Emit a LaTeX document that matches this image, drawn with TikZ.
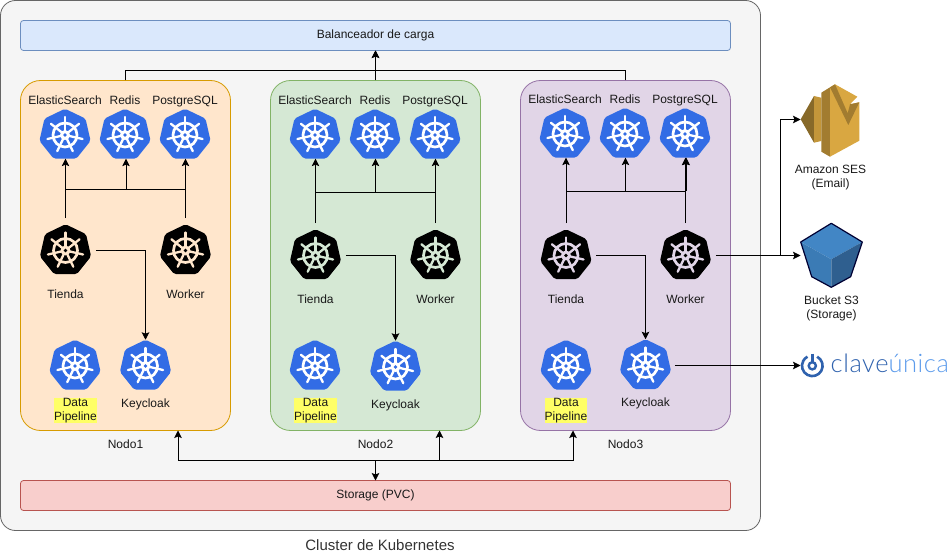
\documentclass[tikz,border=0pt]{standalone}
\usepackage{fontspec}
\setmainfont{Liberation Sans}
\newfontfamily\clavefont[LetterSpace=2.2]{Lato Light}
\usetikzlibrary{positioning, shapes.geometric, arrows.meta}
\definecolor{kubeblue}{HTML}{326CE5}
\definecolor{cajagris}{HTML}{F5F5F5}
\definecolor{nodoA}{HTML}{FFE6CC}
\definecolor{nodoB}{HTML}{D5E8D4}
\definecolor{nodoC}{HTML}{E1D5E7}
\definecolor{bordeA}{HTML}{D79B00}
\definecolor{bordeB}{HTML}{82B366}
\definecolor{bordeC}{HTML}{9673A6}
\definecolor{barraazul}{HTML}{DAE8FC}
\definecolor{bordeazul}{HTML}{6C8EBF}
\definecolor{barraroja}{HTML}{F8CECC}
\definecolor{borderojo}{HTML}{B85450}
\definecolor{resalte}{HTML}{FFFF66}
\definecolor{sesclaro}{HTML}{D9A741}
\definecolor{sesmedio}{HTML}{A27C30}
\definecolor{sesoscuro}{HTML}{876929}
\definecolor{cubotapa}{HTML}{4286C5}
\definecolor{cubolado}{HTML}{3B7BB5}
\definecolor{cubosombra}{HTML}{2F5F8F}
\definecolor{clavedark}{HTML}{2F62AE}
\definecolor{clavelight}{HTML}{5C9BEB}

\begin{document}
\begin{tikzpicture}[x=1pt, y=-1pt,
                    every node/.style={font=\fontsize{12}{14}\selectfont, text=black!90},
                    caja/.style={rectangle, inner sep=0pt, outer sep=0pt, line width=0.8pt},
                    barra/.style={caja, rounded corners=3pt, minimum width=710pt, minimum height=30pt},
                    nodok/.style={caja, rounded corners=20pt, minimum width=210pt, minimum height=350pt},
                    etiqueta/.style={inner sep=0pt, text height=9pt, text depth=3pt},
                    doble/.style={inner sep=0pt, align=center},
                    resaltado/.style={doble, fill=resalte, inner ysep=0.5pt},
                    kube/.style 2 args={regular polygon, regular polygon sides=7, minimum size=52.5pt,
                                        inner sep=0pt, outer sep=0pt, fill=#1, rounded corners=2pt,
                                        path picture={
                                          \begin{scope}[shift={(path picture bounding box.center)}, yshift=-1.2pt]
                                            \draw[#2, line width=2.7pt] (0,0) circle[radius=12pt];
                                            \foreach \a in {90,141.43,192.86,244.29,295.71,347.14,38.57} {
                                              \draw[#2, line width=2.3pt, line cap=round] (0,0) -- (\a:18pt);
                                            }
                                            \fill[#2] (0,0) circle[radius=5pt];
                                            \fill[#1] (0,0) circle[radius=1.8pt];
                                          \end{scope}}},
                    link/.style={->, >={Stealth[length=7.5pt, width=7.5pt, inset=1.5pt]}, line width=0.8pt},
                    linea/.style={line width=0.8pt}]
            \useasboundingbox (0,0) rectangle (951,556);

            % Cluster
            \node[caja, rounded corners=15pt, draw=black!60, fill=cajagris, minimum width=760pt, minimum height=530pt] (cluster) at (380.5,265.5) {};
            \node[font=\fontsize{15}{18}\selectfont, text=black!80] (clustername) at (380,545.5) {Cluster de Kubernetes};
            \node[barra, draw=bordeazul, fill=barraazul] (balanceador) at (375.5,35.5) {Balanceador de carga};
            \node[barra, draw=borderojo, fill=barraroja] (storage) at (375.5,495.5) {Storage (PVC)};

            % Nodo1
            \node[nodok, draw=bordeA, fill=nodoA] (nodo1) at (125.5,255.5) {};
            \node[etiqueta] (nodoname1) [below=8.5pt of nodo1] {Nodo1};
            \node[kube={kubeblue}{white}] (es1) at (65,135) {};
            \node[etiqueta] (esname1) [above=1.5pt of es1] {ElasticSearch};
            \node[kube={kubeblue}{white}] (redis1) at (125,135) {};
            \node[etiqueta] (redisname1) [above=1.5pt of redis1] {Redis};
            \node[kube={kubeblue}{white}] (pg1) at (185,135) {};
            \node[etiqueta] (pgname1) [above=1.5pt of pg1] {PostgreSQL};
            \node[kube={black}{nodoA}] (tienda1) at (65.5,250.5) {};
            \node[etiqueta] (tiendaname1) [below=15pt of tienda1] {Tienda};
            \node[kube={black}{nodoA}] (worker1) at (185.5,250.5) {};
            \node[etiqueta] (workername1) [below=15pt of worker1] {Worker};
            \node[kube={kubeblue}{white}] (data1) at (75,366) {};
            \node[resaltado] (dataname1) at (75.5,410.5) {Data\\Pipeline};
            \node[kube={kubeblue}{white}] (keycloak1) at (145.5,366) {};
            \node[etiqueta] (keycloakname1) [below=8.5pt of keycloak1] {Keycloak};

            % Nodo2
            \node[nodok, draw=bordeB, fill=nodoB] (nodo2) at (375.5,255.5) {};
            \node[etiqueta] (nodoname2) [below=8.5pt of nodo2] {Nodo2};
            \node[kube={kubeblue}{white}] (es2) at (315,135) {};
            \node[etiqueta] (esname2) [above=1.5pt of es2] {ElasticSearch};
            \node[kube={kubeblue}{white}] (redis2) at (375,135) {};
            \node[etiqueta] (redisname2) [above=1.5pt of redis2] {Redis};
            \node[kube={kubeblue}{white}] (pg2) at (435,135) {};
            \node[etiqueta] (pgname2) [above=1.5pt of pg2] {PostgreSQL};
            \node[kube={black}{nodoB}] (tienda2) at (315.5,255.5) {};
            \node[etiqueta] (tiendaname2) [below=15pt of tienda2] {Tienda};
            \node[kube={black}{nodoB}] (worker2) at (435.5,255.5) {};
            \node[etiqueta] (workername2) [below=15pt of worker2] {Worker};
            \node[kube={kubeblue}{white}] (data2) at (315,366) {};
            \node[resaltado] (dataname2) at (315.5,410.5) {Data\\Pipeline};
            \node[kube={kubeblue}{white}] (keycloak2) at (395.5,367) {};
            \node[etiqueta] (keycloakname2) [below=8.5pt of keycloak2] {Keycloak};

            % Nodo3
            \node[nodok, draw=bordeC, fill=nodoC] (nodo3) at (625.5,255.5) {};
            \node[etiqueta] (nodoname3) [below=8.5pt of nodo3] {Nodo3};
            \node[kube={kubeblue}{white}] (es3) at (565,134) {};
            \node[etiqueta] (esname3) [above=1.5pt of es3] {ElasticSearch};
            \node[kube={kubeblue}{white}] (redis3) at (625,134) {};
            \node[etiqueta] (redisname3) [above=1.5pt of redis3] {Redis};
            \node[kube={kubeblue}{white}] (pg3) at (685,134) {};
            \node[etiqueta] (pgname3) [above=1.5pt of pg3] {PostgreSQL};
            \node[kube={black}{nodoC}] (tienda3) at (566,255.5) {};
            \node[etiqueta] (tiendaname3) [below=15pt of tienda3] {Tienda};
            \node[kube={black}{nodoC}] (worker3) at (685.5,255.5) {};
            \node[etiqueta] (workername3) [below=15pt of worker3] {Worker};
            \node[kube={kubeblue}{white}] (data3) at (566,366) {};
            \node[resaltado] (dataname3) at (566,410.5) {Data\\Pipeline};
            \node[kube={kubeblue}{white}] (keycloak3) at (645.5,365.5) {};
            \node[etiqueta] (keycloakname3) [below=8pt of keycloak3] {Keycloak};

            % Amazon SES
            \fill[sesoscuro] (800.7,119.3) -- (814,96) -- (814,142.7) -- cycle;
            \fill[sesmedio!40!sesclaro] (814,96) -- (821.3,97.7) -- (821.3,141) -- (814,142.7) -- cycle;
            \fill[sesmedio] (821.3,92.7) -- (830,87.3) -- (830,156.7) -- (821.3,151.7) -- cycle;
            \fill[sesclaro] (830,87.3) -- (835,84.3) -- (857.3,96.7) -- (850,104.3) -- (859.3,102.3) -- (859.3,140.7) -- (830,156.7) -- cycle;
            \fill[sesmedio] (830,87.3) -- (835,84.3) -- (847.7,113.3) -- (850,104.3) -- (859.3,102.3) -- (848.3,125) -- cycle;
            \coordinate (sesicon) at (800.5,119.5);
            \node[doble] (sesname) at (830.5,178) {Amazon SES\\(Email)};

            % Bucket S3
            \fill[cubotapa] (831.3,223.3) -- (862.3,242) -- (831.3,259.3) -- (800.7,242) -- cycle;
            \fill[cubolado] (800.7,242) -- (831.3,259.3) -- (831.3,287.3) -- (811.7,276.7) -- cycle;
            \fill[cubosombra] (862.3,242) -- (831.3,259.3) -- (831.3,287.3) -- (850.7,276.7) -- cycle;
            \draw[black!80!blue, line width=1.2pt, line join=round] (831.3,223.3) -- (862.3,242) -- (850.7,276.7) -- (831.3,287.3) -- (811.7,276.7) -- (800.7,242) -- cycle;
            \coordinate (s3icon) at (800.5,255.5);
            \node[doble] (s3name) at (831.5,308) {Bucket S3\\(Storage)};

            % Clave Unica
            \draw[clavedark, line width=2.6pt] (812.3,365.8) ++(62:10.3pt) arc[start angle=62, end angle=-242, radius=10.3pt];
            \draw[clavedark, line width=2.4pt] (812.3,365.8) circle[radius=3.6pt];
            \draw[clavedark, line width=2.4pt] (812.3,353.5) -- (812.3,362);
            \coordinate (claveicon) at (800.5,366.5);
            \node[anchor=base west, inner sep=0pt, font=\clavefont\fontsize{25.5}{28}\selectfont] (clavename) at (830.5,372.5) {\textcolor{clavedark}{clave}\textcolor{clavelight}{única}};

            % Conexiones
            \coordinate (lbbus) at (375.5,70.5);
            \draw[link] (nodo1.north) |- (lbbus) -- (balanceador.south);
            \draw[linea] (nodo3.north) |- (lbbus);
            \draw[link] (nodo2.north) -- (balanceador.south);

            \coordinate (bus1) at (126,189.5);
            \draw[link, shorten <=6pt] (tienda1.north) -- (tienda1.north |- es1.south);
            \draw[link, shorten <=6pt] (worker1.north) -- (worker1.north |- pg1.south);
            \draw[linea] (tienda1.north |- bus1) -- (worker1.north |- bus1);
            \draw[link] (bus1) -- (bus1 |- redis1.south);
            \draw[link, shorten <=6pt] (tienda1.east) -| (keycloak1.north);

            \coordinate (bus2) at (375.5,192);
            \draw[link, shorten <=6pt] (tienda2.north) -- (tienda2.north |- es2.south);
            \draw[link, shorten <=6pt] (worker2.north) -- (worker2.north |- pg2.south);
            \draw[linea] (tienda2.north |- bus2) -- (worker2.north |- bus2);
            \draw[link] (bus2) -- (bus2 |- redis2.south);
            \draw[link, shorten <=6pt] (tienda2.east) -| (keycloak2.north);

            \coordinate (bus3) at (625.5,191);
            \coordinate (bus3r) at (686.2,191);
            \draw[link, shorten <=6pt] (tienda3.north) -- (tienda3.north |- es3.south);
            \draw[link, shorten <=6pt] (worker3.north) -- (worker3.north |- pg3.south);
            \draw[linea] (tienda3.north |- bus3) -- (bus3r);
            \draw[link] (bus3) -- (bus3 |- redis3.south);
            \draw[link] (bus3r) -- (bus3r |- pg3.south);
            \draw[link, shorten <=6pt] (tienda3.east) -| (keycloak3.north);

            \coordinate (sesbranch) at (780.5,255.5);
            \draw[link, shorten <=6pt] (worker3.east) -- (worker3.east -| s3icon);
            \draw[link] (sesbranch) |- (sesicon);
            \draw[link, shorten <=5pt] (keycloak3.east) -- (keycloak3.east -| claveicon);

            \coordinate (storagebus) at (375.5,460.5);
            \coordinate (busA) at (178,460.5);
            \coordinate (busB) at (439.5,460.5);
            \coordinate (busC) at (573,460.5);
            \draw[linea] (busA) -- (busC);
            \draw[link] (storagebus) -- (storage.north);
            \draw[link] (busA) -- (busA |- nodo1.south);
            \draw[link] (busB) -- (busB |- nodo2.south);
            \draw[link] (busC) -- (busC |- nodo3.south);
        \end{tikzpicture}
\end{document}
